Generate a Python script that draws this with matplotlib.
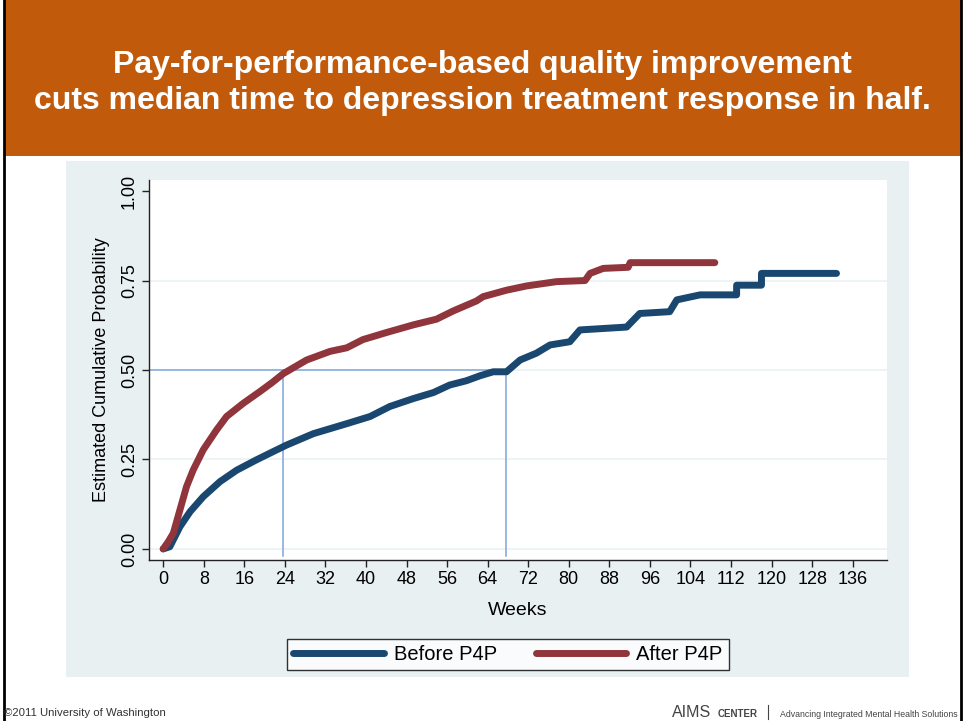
import matplotlib
matplotlib.use("Agg")
import matplotlib.pyplot as plt
from matplotlib.patches import Rectangle
from matplotlib.lines import Line2D

plt.rcParams['font.family'] = ['Liberation Sans', 'DejaVu Sans']

# data (weeks, cumulative probability)
before_weeks = [0, 1.3, 3.3, 5.3, 7.9, 11.2, 14.5, 18.4, 21.7, 24.3, 29.6, 36.2,
                40.8, 44.7, 49.3, 53.3, 56.5, 59.8, 62.5, 65.1, 67.7, 70.4, 73.6,
                76.3, 80.2, 82.2, 91.4, 94.0, 99.9, 101.3, 105.9, 113.1, 113.1,
                118.0, 118.0, 132.8]
before_prob = [0, 0.006, 0.062, 0.104, 0.146, 0.188, 0.22, 0.249, 0.272, 0.29,
               0.322, 0.35, 0.37, 0.398, 0.42, 0.437, 0.458, 0.47, 0.484, 0.495,
               0.495, 0.528, 0.547, 0.57, 0.579, 0.612, 0.62, 0.658, 0.663, 0.696,
               0.71, 0.71, 0.737, 0.737, 0.77, 0.77]

after_weeks = [0, 1.0, 2.0, 3.3, 4.6, 5.9, 7.9, 10.5, 12.5, 15.8, 19.1, 21.5, 23.7,
               28.3, 32.9, 36.2, 39.4, 44.1, 49.3, 53.9, 57.2, 61.8, 63.1, 67.7,
               71.7, 77.6, 83.2, 84.2, 86.8, 91.7, 92.1, 108.8]
after_prob = [0, 0.02, 0.044, 0.109, 0.174, 0.22, 0.277, 0.332, 0.37, 0.407, 0.44,
              0.465, 0.49, 0.528, 0.552, 0.562, 0.585, 0.605, 0.626, 0.642, 0.665,
              0.693, 0.705, 0.723, 0.735, 0.747, 0.75, 0.77, 0.784, 0.787, 0.80,
              0.80]

median_before = 67.7
median_after = 23.6

x_ticks = list(range(0, 137, 8))
y_ticks = [0, 0.25, 0.5, 0.75, 1.0]
y_labels = ['0.00', '0.25', '0.50', '0.75', '1.00']

title = ("Pay-for-performance-based quality improvement\n"
         "cuts median time to depression treatment response in half.")

W, H = 965, 721
fig = plt.figure(figsize=(W / 100, H / 100), dpi=100)


def px(x, y):
    return x / W, 1 - y / H


def rect(x0, y0, x1, y1, color):
    fx0, fy1 = px(x0, y1)
    fig.patches.append(Rectangle((fx0, fy1), (x1 - x0) / W, (y1 - y0) / H,
                                 transform=fig.transFigure, color=color,
                                 zorder=-10, lw=0))


# slide decoration
rect(4, 0, 961, 156, '#C15A0A')
rect(66, 161, 909, 677, '#E8F0F2')
for xb in (4, 961):
    fig.add_artist(Line2D([xb / W, xb / W], [0, 1], transform=fig.transFigure,
                          color='black', lw=2))

fig.text(0.5, 1 - 83 / H, title, color='white', fontsize=23, fontweight='bold',
         ha='center', va='center', linespacing=1.27)

ax = fig.add_axes([149 / W, 1 - 560 / H, (886.7 - 149) / W, (560 - 180) / H])
ax.set_facecolor('white')
ax.set_xlim(-2.8, 142.7)
ax.set_ylim(-0.031, 1.031)

for y in y_ticks[:-1]:
    ax.axhline(y, color='#EAF2F3', lw=1.2, zorder=1)

# median guide lines
ax.plot([-2.8, median_before], [0.5, 0.5], color='#7FA6D8', lw=1.1, zorder=2)
ax.plot([median_after, median_after], [0.5, -0.02], color='#7FA6D8', lw=1.1, zorder=2)
ax.plot([median_before, median_before], [0.5, -0.02], color='#7FA6D8', lw=1.1, zorder=2)

ax.plot(before_weeks, before_prob, color='#1A476F', lw=5, solid_capstyle='round',
        solid_joinstyle='round', zorder=3, label='Before P4P')
ax.plot(after_weeks, after_prob, color='#90353B', lw=5, solid_capstyle='round',
        solid_joinstyle='round', zorder=4, label='After P4P')

ax.spines['top'].set_visible(False)
ax.spines['right'].set_visible(False)
for s in ('left', 'bottom'):
    ax.spines[s].set_color('#222222')
    ax.spines[s].set_linewidth(1)

ax.set_xticks(x_ticks)
ax.set_xticklabels([str(t) for t in x_ticks], fontsize=13)
ax.set_yticks(y_ticks)
ax.set_yticklabels(y_labels, fontsize=13, rotation=90, va='center')
ax.tick_params(direction='out', length=5, width=1, color='#222222', pad=3)
ax.set_xlabel('Weeks', fontsize=14, labelpad=10)
ax.set_ylabel('Estimated Cumulative Probability', fontsize=13, labelpad=8)

leg = fig.legend(loc='center', bbox_to_anchor=(508 / W, 1 - 654.5 / H), ncol=2,
                 fontsize=14.5, frameon=True, fancybox=False, handlelength=4.5,
                 handletextpad=0.5, columnspacing=1.9, edgecolor='black',
                 borderpad=0.3, borderaxespad=0)
leg.get_frame().set_linewidth(1)

# footer
fig.text(4 / W, 1 - 713 / H, '\u00a92011 University of Washington', fontsize=8.2,
         color='#333333', ha='left', va='center')
fig.text(958 / W, 1 - 717 / H, 'Advancing Integrated Mental Health Solutions',
         fontsize=6.3, color='#444444', ha='right', va='baseline')
fig.add_artist(Line2D([768 / W, 768 / W], [1 - 705 / H, 1 - 719 / H],
                      transform=fig.transFigure, color='#444444', lw=0.8))
fig.text(758 / W, 1 - 717 / H, 'CENTER', fontsize=7, fontweight='bold',
         color='#444444', ha='right', va='baseline')
fig.text(711 / W, 1 - 717 / H, 'AIMS', fontsize=11.5, color='#444444',
         ha='right', va='baseline')

fig.savefig('out.png', dpi=100)
